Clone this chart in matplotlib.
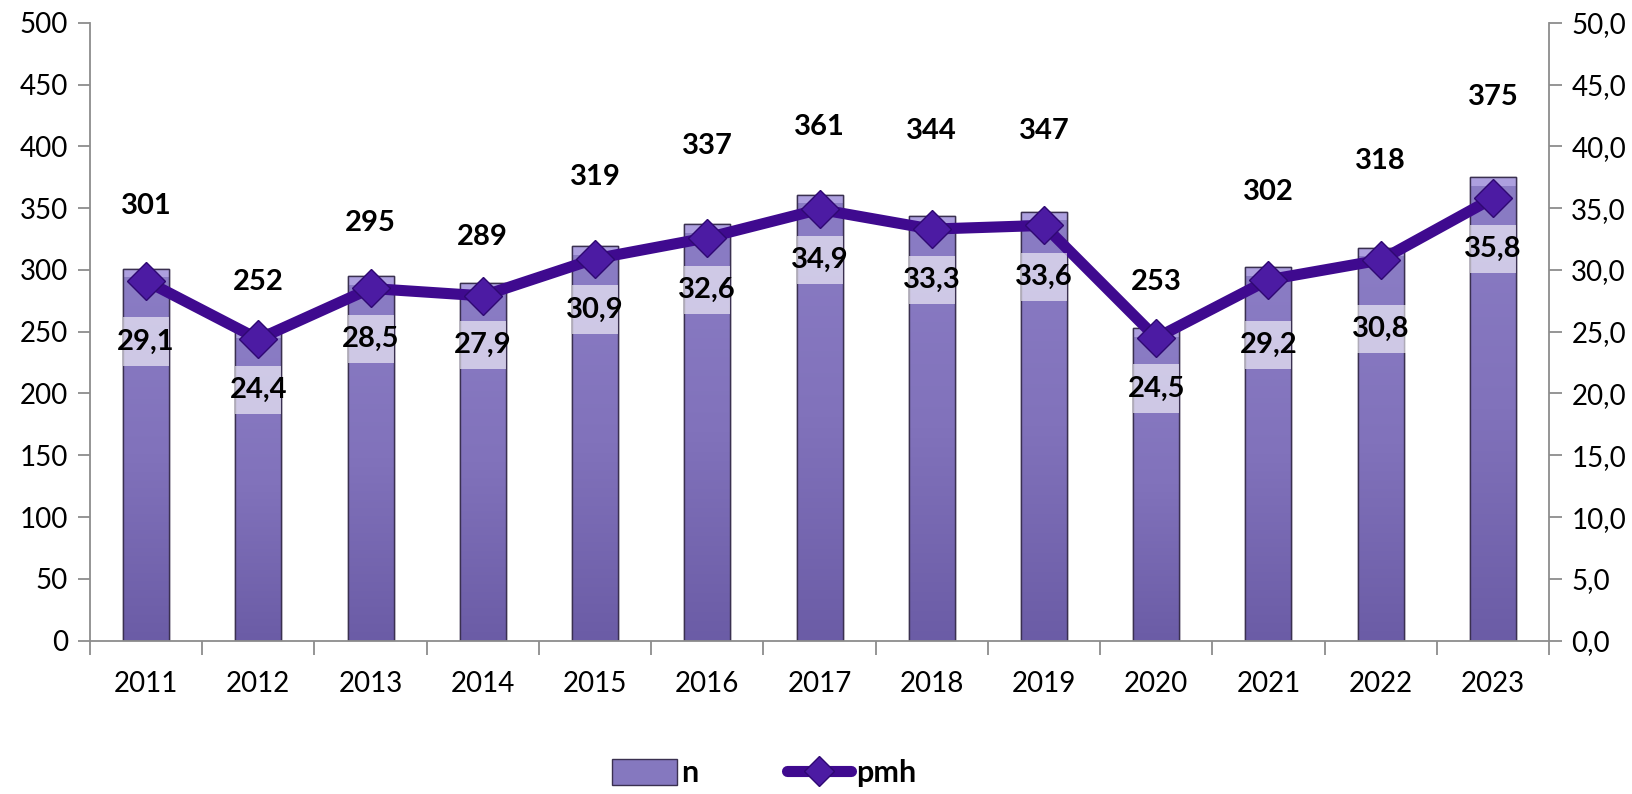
import matplotlib
matplotlib.use("Agg")
import matplotlib.pyplot as plt
import numpy as np
from matplotlib.patches import Patch, Rectangle
from matplotlib.lines import Line2D
from matplotlib.colors import LinearSegmentedColormap

plt.rcParams['font.family'] = ['Lato', 'DejaVu Sans']

years = ["2011", "2012", "2013", "2014", "2015", "2016", "2017",
         "2018", "2019", "2020", "2021", "2022", "2023"]
n_values = [301, 252, 295, 289, 319, 337, 361, 344, 347, 253, 302, 318, 375]
pmh_values = [29.1, 24.4, 28.5, 27.9, 30.9, 32.6, 34.9, 33.3, 33.6, 24.5, 29.2, 30.8, 35.8]
pmh_labels = ["29,1", "24,4", "28,5", "27,9", "30,9", "32,6", "34,9",
              "33,3", "33,6", "24,5", "29,2", "30,8", "35,8"]
left_ticks = [0, 50, 100, 150, 200, 250, 300, 350, 400, 450, 500]
right_ticks = [0, 5, 10, 15, 20, 25, 30, 35, 40, 45, 50]
right_tick_labels = ["0,0", "5,0", "10,0", "15,0", "20,0", "25,0", "30,0",
                     "35,0", "40,0", "45,0", "50,0"]
# label anchor heights (left-axis units), as placed in the original
n_label_y = [352, 290, 338, 327, 375, 400, 416, 412, 412, 290, 363, 388, 440]
pmh_label_y = [242, 203, 244, 239, 268, 284, 308, 292, 294, 204, 239, 252, 317]
# label background widths (category units)
pmh_box_w = [0.41, 0.41, 0.41, 0.41, 0.41, 0.41, 0.41, 0.41, 0.41, 0.41, 0.41, 0.65, 0.41]

fig = plt.figure(figsize=(16.33, 7.94), dpi=100)
ax = fig.add_axes([0.0551, 0.1931, 0.8935, 0.7783])
ax2 = ax.twinx()

x = np.arange(len(years))
bar_w = 0.41
bars = ax.bar(x, n_values, width=bar_w, color="#8578bf", edgecolor="#3a3050",
              linewidth=1.0, zorder=2)

cmap = LinearSegmentedColormap.from_list("barg", ["#6b5ca6", "#8172bb", "#8b7dc5"])
grad = np.linspace(0, 1, 256).reshape(-1, 1)
for b in bars:
    x0, y0 = b.get_x(), b.get_y()
    w, h = b.get_width(), b.get_height()
    im = ax.imshow(grad, extent=(x0, x0 + w, y0, y0 + h), origin="lower",
                   cmap=cmap, aspect="auto", zorder=2.1)
    im.set_clip_path(b)
    ax.fill_between([x0, x0 + w], y0 + h - 7, y0 + h, color="#ad a0df".replace(" ", ""),
                    zorder=2.2, linewidth=0)
    ax.plot([x0, x0, x0 + w, x0 + w, x0], [y0, y0 + h, y0 + h, y0, y0],
            color="#3a3050", linewidth=1.0, zorder=2.3)

ax.set_xlim(-0.5, len(years) - 0.5)
ax.set_ylim(0, 500)
ax.set_yticks(left_ticks)
ax.set_yticklabels([str(t) for t in left_ticks])
ax.set_xticks(x)
ax.set_xticklabels(years)
ax.set_xticks(np.arange(-0.5, len(years), 1.0), minor=True)
ax.tick_params(axis="x", which="major", length=0, pad=22, labelsize=20)
ax.tick_params(axis="x", which="minor", length=10, width=1.3, color="#8c8c8c")
ax.tick_params(axis="y", length=9, width=1.3, color="#8c8c8c", labelsize=20, pad=7)

ax2.set_ylim(0, 50)
ax2.set_yticks(right_ticks)
ax2.set_yticklabels(right_tick_labels)
ax2.tick_params(axis="y", length=9, width=1.3, color="#8c8c8c", labelsize=20, pad=7)

for a in (ax, ax2):
    a.spines["top"].set_visible(False)
    for s in ("left", "right", "bottom"):
        a.spines[s].set_color("#8c8c8c")
        a.spines[s].set_linewidth(1.3)
ax.spines["right"].set_visible(False)
ax2.spines["left"].set_visible(False)
ax2.spines["bottom"].set_visible(False)

ax2.plot(x, pmh_values, color="#3f0a8f", linewidth=8, solid_capstyle="round",
         zorder=3)
ax2.plot(x, pmh_values, linestyle="none", marker="D", markersize=19,
         markerfacecolor="#4c1ba3", markeredgecolor="#2f0872",
         markeredgewidth=1.0, zorder=4)

box_h = 3.9  # right-axis units (~48 px)
for i in range(len(years)):
    ax.text(x[i], n_label_y[i], str(n_values[i]), ha="center", va="center",
            fontsize=21, fontweight="bold", color="black", zorder=5)
    cy = pmh_label_y[i] / 10.0
    ax2.add_patch(Rectangle((x[i] - pmh_box_w[i] / 2, cy - box_h / 2),
                            pmh_box_w[i], box_h, facecolor="white",
                            edgecolor="none", alpha=0.6, zorder=4.5))
    ax2.text(x[i], cy, pmh_labels[i], ha="center", va="center",
             fontsize=21, fontweight="bold", color="black", zorder=5)

handles = [Patch(facecolor="#8578bf", edgecolor="#3a3050"),
           Line2D([0], [0], color="#3f0a8f", linewidth=8, marker="D",
                  markersize=15, markerfacecolor="#4c1ba3",
                  markeredgecolor="#2f0872", solid_capstyle="round")]
fig.legend(handles, ["n", "pmh"], loc="center", bbox_to_anchor=(0.468, 0.026),
           ncol=2, frameon=False, handlelength=2.1, handleheight=0.9,
           columnspacing=2.9, handletextpad=0.15,
           prop=dict(size=22, weight="bold"))

fig.savefig("out.png", dpi=100)
